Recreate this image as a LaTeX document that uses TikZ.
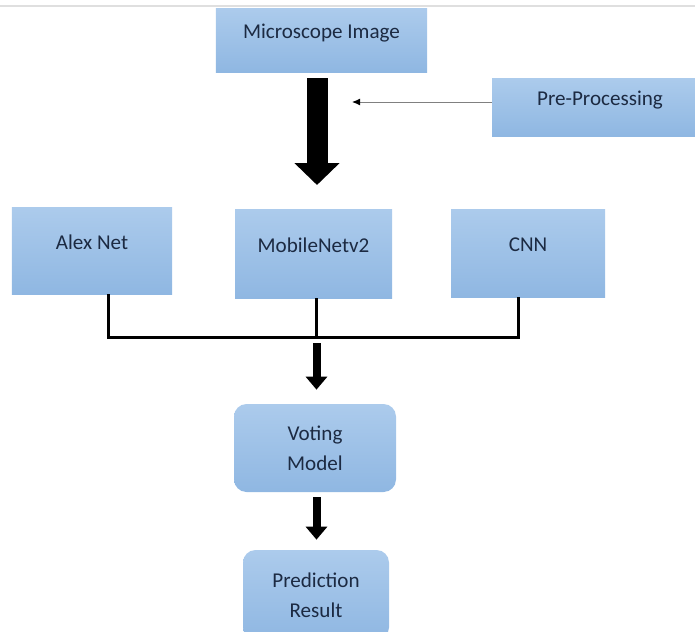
\documentclass[tikz,border=0pt]{standalone}
\usepackage{fontspec}
\setmainfont{Carlito}
\usetikzlibrary{arrows.meta}
\definecolor{boxtop}{RGB}{172,203,236}
\definecolor{boxbot}{RGB}{143,183,226}
\definecolor{boxtext}{RGB}{28,42,66}
\begin{document}
\begin{tikzpicture}[
            box/.style={top color=boxtop, bottom color=boxbot, draw=none, text=boxtext, align=center,
                        font=\fontsize{12}{17}\selectfont, inner sep=0pt},
            onebox/.style={box, text depth=0.35cm},
            roundbox/.style={box, rounded corners=0.25cm},
            fat/.style={line width=0.16cm, -{Triangle[width=0.42cm, length=0.26cm]}},
            bracket/.style={line width=0.06cm}
            ]
            \clip (0,0) rectangle (13.9,-12.64);
            \draw[gray!25, line width=0.04cm] (0,-0.12) -- (13.9,-0.12);

            \node[onebox, minimum width=4.22cm, minimum height=1.28cm] (micro) at (6.43,-0.80) {Microscope Image};
            \node[onebox, minimum width=4.32cm, minimum height=1.16cm] (pre) at (12.0,-2.14) {Pre-Processing};

            \node[onebox, minimum width=3.20cm, minimum height=1.74cm] (alex) at (1.84,-5.01) {Alex Net};
            \node[onebox, minimum width=3.14cm, minimum height=1.78cm] (mobile) at (6.27,-5.07) {MobileNetv2};
            \node[onebox, minimum width=3.08cm, minimum height=1.76cm] (cnn) at (10.56,-5.06) {CNN};

            \node[roundbox, minimum width=3.24cm, minimum height=1.76cm] (voting) at (6.30,-8.96) {Voting\\Model};
            \node[roundbox, minimum width=2.92cm, minimum height=1.80cm] (pred) at (6.32,-11.90) {Prediction\\Result};

            \coordinate (bigtip) at (6.34,-3.70);
            \coordinate (thintip) at (7.04,-2.04);
            \coordinate (join) at (6.33,-6.74);

            \draw[line width=0.42cm, -{Triangle[width=0.88cm, length=0.44cm]}] (micro.south -| bigtip) ++(0,-0.12) -- (bigtip);
            \draw[gray, line width=0.02cm, -{Latex[black, length=0.16cm, width=0.14cm]}] (pre.west |- thintip) -- (thintip);

            \draw[bracket] ([xshift=0.34cm]alex.south) |- (join);
            \draw[bracket] ([xshift=-0.2cm]cnn.south) |- (join);
            \draw[bracket] (mobile.south -| join) -- (join);

            \draw[fat] ([yshift=-0.12cm]join) -- ([yshift=0.28cm]voting.north -| join);
            \draw[fat] ([yshift=-0.1cm]voting.south -| join) -- ([yshift=0.2cm]pred.north -| join);

\end{tikzpicture}
\end{document}
